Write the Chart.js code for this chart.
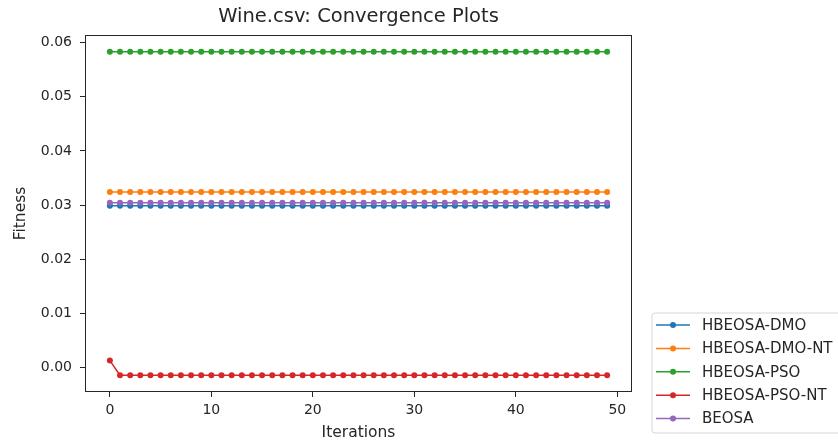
<!DOCTYPE html>
<html>
<head>
<meta charset="utf-8">
<script src="https://cdn.jsdelivr.net/npm/chart.js@4"></script>
<style>
  html, body { margin: 0; padding: 0; background: #ffffff; }
  #wrap { width: 838px; height: 445px; }
</style>
</head>
<body>
<div id="wrap"><canvas id="c" width="838" height="445"></canvas></div>
<script>
// Iteration index (x axis)
const iterations = [0,1,2,3,4,5,6,7,8,9,10,11,12,13,14,15,16,17,18,19,20,21,22,23,24,25,26,27,28,29,30,31,32,33,34,35,36,37,38,39,40,41,42,43,44,45,46,47,48,49];

// Best fitness per iteration for each optimiser
const hbeosaDmo = [0.0299,0.0299,0.0299,0.0299,0.0299,0.0299,0.0299,0.0299,0.0299,0.0299,0.0299,0.0299,0.0299,0.0299,0.0299,0.0299,0.0299,0.0299,0.0299,0.0299,0.0299,0.0299,0.0299,0.0299,0.0299,0.0299,0.0299,0.0299,0.0299,0.0299,0.0299,0.0299,0.0299,0.0299,0.0299,0.0299,0.0299,0.0299,0.0299,0.0299,0.0299,0.0299,0.0299,0.0299,0.0299,0.0299,0.0299,0.0299,0.0299,0.0299];
const hbeosaDmoNt = [0.0324,0.0324,0.0324,0.0324,0.0324,0.0324,0.0324,0.0324,0.0324,0.0324,0.0324,0.0324,0.0324,0.0324,0.0324,0.0324,0.0324,0.0324,0.0324,0.0324,0.0324,0.0324,0.0324,0.0324,0.0324,0.0324,0.0324,0.0324,0.0324,0.0324,0.0324,0.0324,0.0324,0.0324,0.0324,0.0324,0.0324,0.0324,0.0324,0.0324,0.0324,0.0324,0.0324,0.0324,0.0324,0.0324,0.0324,0.0324,0.0324,0.0324];
const hbeosaPso = [0.0583,0.0583,0.0583,0.0583,0.0583,0.0583,0.0583,0.0583,0.0583,0.0583,0.0583,0.0583,0.0583,0.0583,0.0583,0.0583,0.0583,0.0583,0.0583,0.0583,0.0583,0.0583,0.0583,0.0583,0.0583,0.0583,0.0583,0.0583,0.0583,0.0583,0.0583,0.0583,0.0583,0.0583,0.0583,0.0583,0.0583,0.0583,0.0583,0.0583,0.0583,0.0583,0.0583,0.0583,0.0583,0.0583,0.0583,0.0583,0.0583,0.0583];
const hbeosaPsoNt = [0.0013,-0.0014,-0.0014,-0.0014,-0.0014,-0.0014,-0.0014,-0.0014,-0.0014,-0.0014,-0.0014,-0.0014,-0.0014,-0.0014,-0.0014,-0.0014,-0.0014,-0.0014,-0.0014,-0.0014,-0.0014,-0.0014,-0.0014,-0.0014,-0.0014,-0.0014,-0.0014,-0.0014,-0.0014,-0.0014,-0.0014,-0.0014,-0.0014,-0.0014,-0.0014,-0.0014,-0.0014,-0.0014,-0.0014,-0.0014,-0.0014,-0.0014,-0.0014,-0.0014,-0.0014,-0.0014,-0.0014,-0.0014,-0.0014,-0.0014];
const beosa = [0.03045,0.03045,0.03045,0.03045,0.03045,0.03045,0.03045,0.03045,0.03045,0.03045,0.03045,0.03045,0.03045,0.03045,0.03045,0.03045,0.03045,0.03045,0.03045,0.03045,0.03045,0.03045,0.03045,0.03045,0.03045,0.03045,0.03045,0.03045,0.03045,0.03045,0.03045,0.03045,0.03045,0.03045,0.03045,0.03045,0.03045,0.03045,0.03045,0.03045,0.03045,0.03045,0.03045,0.03045,0.03045,0.03045,0.03045,0.03045,0.03045,0.03045];

const seriesNames = ['HBEOSA-DMO', 'HBEOSA-DMO-NT', 'HBEOSA-PSO', 'HBEOSA-PSO-NT', 'BEOSA'];
const seriesValues = [hbeosaDmo, hbeosaDmoNt, hbeosaPso, hbeosaPsoNt, beosa];
const seriesColors = ['#1f77b4', '#ff7f0e', '#2ca02c', '#d62728', '#9467bd'];

const xTicks = [0, 10, 20, 30, 40, 50];
const yTicks = [0.00, 0.01, 0.02, 0.03, 0.04, 0.05, 0.06];

const FONT = 'DejaVu Sans';
const INK = '#262626';

// Later series sit on top of earlier ones
const datasets = seriesNames.map((name, i) => ({
  label: name,
  data: iterations.map((it, k) => ({ x: it, y: seriesValues[i][k] })),
  borderColor: seriesColors[i],
  backgroundColor: seriesColors[i],
  pointBackgroundColor: seriesColors[i],
  pointBorderWidth: 0,
  pointRadius: 3,
  borderWidth: 1.5,
  tension: 0,
  order: seriesNames.length - i
}));

// Four-sided axes frame
const frame = {
  id: 'frame',
  afterDatasetsDraw(chart) {
    const { ctx, chartArea: a } = chart;
    ctx.save();
    ctx.strokeStyle = INK;
    ctx.lineWidth = 1;
    ctx.strokeRect(a.left + 0.5, a.top + 0.5, a.right - a.left - 1, a.bottom - a.top - 1);
    ctx.restore();
  }
};

// Legend box placed to the lower right, outside the axes
const sideLegend = {
  id: 'sideLegend',
  afterDraw(chart) {
    const ctx = chart.ctx;
    const x0 = 652, y0 = 313, w = 200, h = 120, r = 3;
    ctx.save();
    ctx.beginPath();
    ctx.moveTo(x0 + r, y0);
    ctx.lineTo(x0 + w - r, y0);
    ctx.arcTo(x0 + w, y0, x0 + w, y0 + r, r);
    ctx.lineTo(x0 + w, y0 + h - r);
    ctx.arcTo(x0 + w, y0 + h, x0 + w - r, y0 + h, r);
    ctx.lineTo(x0 + r, y0 + h);
    ctx.arcTo(x0, y0 + h, x0, y0 + h - r, r);
    ctx.lineTo(x0, y0 + r);
    ctx.arcTo(x0, y0, x0 + r, y0, r);
    ctx.closePath();
    ctx.fillStyle = 'rgba(255,255,255,0.8)';
    ctx.fill();
    ctx.strokeStyle = '#d6d6d6';
    ctx.lineWidth = 1;
    ctx.stroke();

    ctx.font = '15px "' + FONT + '"';
    ctx.textBaseline = 'middle';
    ctx.textAlign = 'left';
    seriesNames.forEach((name, i) => {
      const y = 325 + i * 23.4;
      ctx.strokeStyle = seriesColors[i];
      ctx.lineWidth = 1.5;
      ctx.beginPath();
      ctx.moveTo(656, y);
      ctx.lineTo(690, y);
      ctx.stroke();
      ctx.fillStyle = seriesColors[i];
      ctx.beginPath();
      ctx.arc(673, y, 3, 0, Math.PI * 2);
      ctx.fill();
      ctx.fillStyle = INK;
      ctx.fillText(name, 702, y + 1);
    });
    ctx.restore();
  }
};

new Chart(document.getElementById('c'), {
  type: 'line',
  data: { datasets },
  plugins: [frame, sideLegend],
  options: {
    responsive: false,
    animation: false,
    devicePixelRatio: 1,
    layout: { padding: { left: 0, right: 206, top: 0, bottom: 0 } },
    plugins: {
      legend: { display: false },
      tooltip: { enabled: false },
      title: {
        display: true,
        fullSize: false,
        text: 'Wine.csv: Convergence Plots',
        color: INK,
        font: { family: FONT, size: 19.5, weight: 'normal', lineHeight: 1.2 },
        padding: { top: 5, bottom: 6.6 }
      }
    },
    scales: {
      x: {
        type: 'linear',
        min: -2.45,
        max: 51.45,
        afterFit(scale) { scale.height = 53; },
        afterBuildTicks(scale) { scale.ticks = xTicks.map(v => ({ value: v })); },
        border: { display: false },
        grid: { display: true, drawOnChartArea: false, drawTicks: true, tickLength: 5, color: INK, lineWidth: 1 },
        ticks: {
          color: INK,
          padding: 5,
          maxRotation: 0,
          font: { family: FONT, size: 14 },
          callback: v => String(v)
        },
        title: {
          display: true,
          text: 'Iterations',
          color: INK,
          font: { family: FONT, size: 15.5, lineHeight: 1.2 },
          padding: { top: 0, bottom: 3 }
        }
      },
      y: {
        type: 'linear',
        min: -0.0045,
        max: 0.0614,
        afterFit(scale) { scale.width = 85; },
        afterBuildTicks(scale) { scale.ticks = yTicks.map(v => ({ value: v })); },
        border: { display: false },
        grid: { display: true, drawOnChartArea: false, drawTicks: true, tickLength: 5, color: INK, lineWidth: 1 },
        ticks: {
          color: INK,
          padding: 8,
          font: { family: FONT, size: 14 },
          callback: v => Number(v).toFixed(2)
        },
        title: {
          display: true,
          text: 'Fitness',
          color: INK,
          font: { family: FONT, size: 15.5, lineHeight: 1.2 },
          padding: { top: 12, bottom: 0 }
        }
      }
    }
  }
});
</script>
</body>
</html>
